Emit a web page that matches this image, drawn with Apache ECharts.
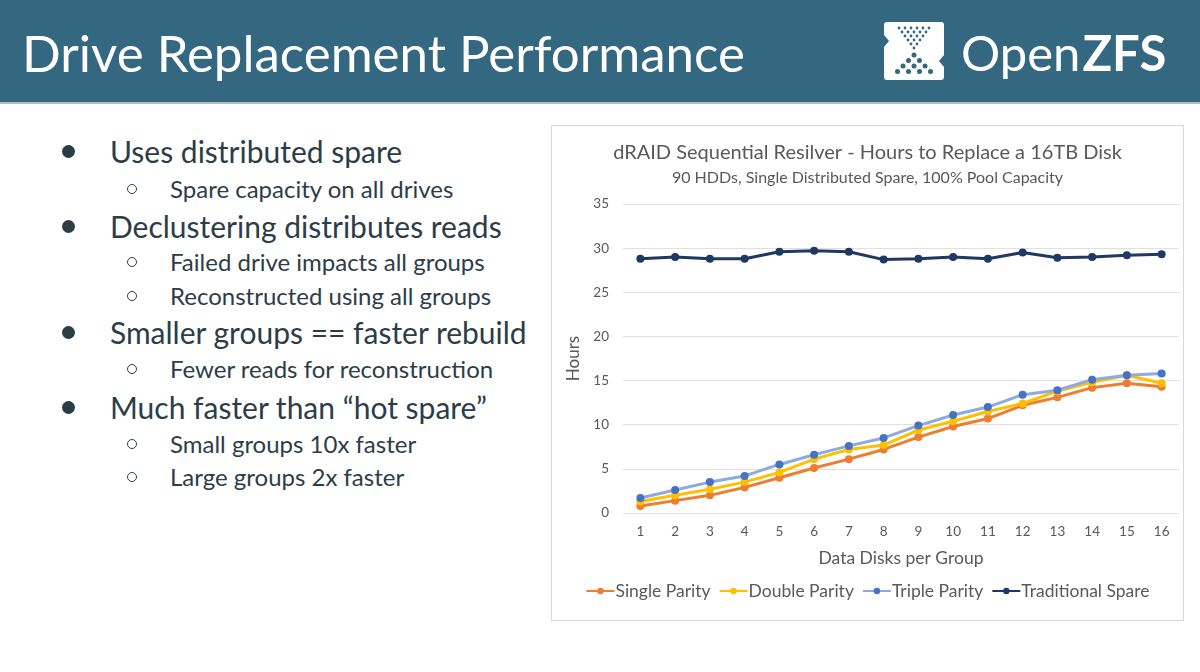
<!DOCTYPE html>
<html>
<head>
<meta charset="utf-8">
<script src="https://cdn.jsdelivr.net/npm/echarts@6/dist/echarts.min.js"></script>
<style>
    body {
        margin: 0;
        width: 1200px;
        height: 672px;
        background: #fff;
        font-family: Lato, "Open Sans", sans-serif;
        position: relative;
        overflow: hidden;
    }
    .header {
        position: absolute;
        left: 0;
        top: 0;
        width: 1200px;
        height: 102px;
        background: #346780;
        border-bottom: 2px solid #a9bcc7;
    }
    .header h1 {
        position: absolute;
        left: 22px;
        top: 23px;
        margin: 0;
        font-weight: 400;
        font-size: 51px;
        line-height: 60px;
        color: #fff;
    }
    .logo {
        position: absolute;
        left: 884px;
        top: 22px;
    }
    .brand {
        position: absolute;
        left: 961px;
        top: 22px;
        font-size: 49px;
        line-height: 60px;
        color: #fff;
    }
    .brand b {
        font-weight: 700;
        margin-left: 2px;
    }
    .line {
        position: absolute;
        color: #2d3d48;
        white-space: nowrap;
        line-height: 1;
    }
    .main {
        left: 110px;
        font-size: 30px;
    }
    .sub {
        left: 170px;
        font-size: 24px;
    }
    .main:before {
        content: '';
        position: absolute;
        left: -48px;
        top: 9px;
        width: 13px;
        height: 13px;
        border-radius: 50%;
        background: #2d3d48;
    }
    .sub:before {
        content: '';
        position: absolute;
        left: -43px;
        top: 7px;
        width: 8px;
        height: 8px;
        border-radius: 50%;
        border: 1.5px solid #2d3d48;
    }
    #panel {
        position: absolute;
        left: 551px;
        top: 125px;
        width: 631px;
        height: 494px;
        border: 1px solid #d9d9d9;
    }
    #main {
        width: 631px;
        height: 494px;
    }
</style>
</head>
<body>
<div class="header">
    <h1>Drive Replacement Performance</h1>
    <svg class="logo" id="logo" width="60" height="58" viewBox="0 0 60 58"></svg>
    <div class="brand">Open<b>ZFS</b></div>
</div>

<div class="line main" style="top:136px">Uses distributed spare</div>
<div class="line sub" style="top:177px">Spare capacity on all drives</div>
<div class="line main" style="top:211px">Declustering distributes reads</div>
<div class="line sub" style="top:250px">Failed drive impacts all groups</div>
<div class="line sub" style="top:284px">Reconstructed using all groups</div>
<div class="line main" style="top:317px">Smaller groups == faster rebuild</div>
<div class="line sub" style="top:357px">Fewer reads for reconstruction</div>
<div class="line main" style="top:392px">Much faster than “hot spare”</div>
<div class="line sub" style="top:432px">Small groups 10x faster</div>
<div class="line sub" style="top:465px">Large groups 2x faster</div>

<div id="panel"><div id="main"></div></div>

<script>
// 数据
var disks = ['1', '2', '3', '4', '5', '6', '7', '8', '9', '10', '11', '12', '13', '14', '15', '16'];
var singleParity = [0.8, 1.4, 2.0, 2.9, 4.0, 5.1, 6.1, 7.2, 8.6, 9.8, 10.7, 12.2, 13.1, 14.2, 14.7, 14.3];
var doubleParity = [1.3, 2.0, 2.7, 3.5, 4.6, 6.1, 7.2, 7.7, 9.4, 10.4, 11.5, 12.4, 13.8, 14.8, 15.6, 14.7];
var tripleParity = [1.7, 2.6, 3.5, 4.2, 5.5, 6.6, 7.6, 8.5, 9.9, 11.1, 12.0, 13.4, 13.9, 15.1, 15.6, 15.8];
var traditionalSpare = [28.8, 29.0, 28.8, 28.8, 29.6, 29.7, 29.6, 28.7, 28.8, 29.0, 28.8, 29.5, 28.9, 29.0, 29.2, 29.3];
var seriesNames = ['Single Parity', 'Double Parity', 'Triple Parity', 'Traditional Spare'];

// logo
function logo() {
    var ns = 'http://www.w3.org/2000/svg';
    var svg = document.getElementById('logo');
    var shape = document.createElementNS(ns, 'path');
    shape.setAttribute('d', 'M3,0 H57 Q60,0 60,3 V33 L55,39 L60,45 V55 Q60,58 57,58 H3 Q0,58 0,55 V25 L5,19 L0,13 V3 Q0,0 3,0 Z');
    shape.setAttribute('fill', '#fff');
    svg.appendChild(shape);
    var r, i, c;
    // top triangle, small dots
    for (r = 0; r < 6; r++) {
        for (i = 0; i < 6 - r; i++) {
            c = document.createElementNS(ns, 'circle');
            c.setAttribute('cx', 30 - (5 - r) * 3 + i * 6);
            c.setAttribute('cy', 6 + r * 4);
            c.setAttribute('r', 1.4);
            c.setAttribute('fill', '#346780');
            svg.appendChild(c);
        }
    }
    // bottom triangle, big dots
    for (r = 0; r < 4; r++) {
        for (i = 0; i <= r; i++) {
            c = document.createElementNS(ns, 'circle');
            c.setAttribute('cx', 30 - r * 5.5 + i * 11);
            c.setAttribute('cy', 33 + r * 5.5);
            c.setAttribute('r', 2.5);
            c.setAttribute('fill', '#346780');
            svg.appendChild(c);
        }
    }
}
logo();

var myChart = echarts.init(document.getElementById('main'));
var gray = '#595959';
var font = 'Lato, "Open Sans", sans-serif';

function line(name, data, lineColor, dotColor) {
    return {
        name: name,
        type: 'line',
        data: data,
        symbol: 'circle',
        symbolSize: 8,
        lineStyle: { color: lineColor, width: 3 },
        itemStyle: { color: dotColor },
        emphasis: { disabled: true }
    };
}

function chart() {
    var option = {
        animation: false,
        textStyle: { fontFamily: font },
        title: [{
            text: 'dRAID Sequential Resilver - Hours to Replace a 16TB Disk',
            left: 'center',
            top: 12,
            textStyle: { color: gray, fontSize: 20, fontWeight: 400, fontFamily: font }
        }, {
            text: '90 HDDs, Single Distributed Spare, 100% Pool Capacity',
            left: 'center',
            top: 39,
            textStyle: { color: gray, fontSize: 16, fontWeight: 400, fontFamily: font }
        }],
        legend: {
            data: seriesNames,
            bottom: 15,
            left: 'center',
            itemWidth: 28,
            itemHeight: 8,
            itemGap: 8,
            textStyle: { color: gray, fontSize: 17.5, padding: [0, 0, 0, -4] }
        },
        grid: {
            left: 71,
            right: 4,
            top: 78,
            bottom: 107
        },
        xAxis: {
            type: 'category',
            data: disks,
            name: 'Data Disks per Group',
            nameLocation: 'middle',
            nameGap: 36,
            nameTextStyle: { color: gray, fontSize: 17.5 },
            axisLine: { show: false },
            axisTick: { show: false },
            axisLabel: { color: gray, fontSize: 13.5, margin: 12 }
        },
        yAxis: {
            type: 'value',
            min: 0,
            max: 35,
            interval: 5,
            name: 'Hours',
            nameLocation: 'middle',
            nameGap: 39,
            nameTextStyle: { color: gray, fontSize: 17 },
            axisLabel: { color: gray, fontSize: 13.5, margin: 14 },
            splitLine: { lineStyle: { color: '#e0e0e0', width: 1 } }
        },
        series: [
            line(seriesNames[0], singleParity, '#ed7d31', '#ed7d31'),
            line(seriesNames[1], doubleParity, '#ffc000', '#ffc000'),
            line(seriesNames[2], tripleParity, '#8faadc', '#4472c4'),
            line(seriesNames[3], traditionalSpare, '#203864', '#203864')
        ]
    };
    myChart.setOption(option);
}
chart();
</script>
</body>
</html>
